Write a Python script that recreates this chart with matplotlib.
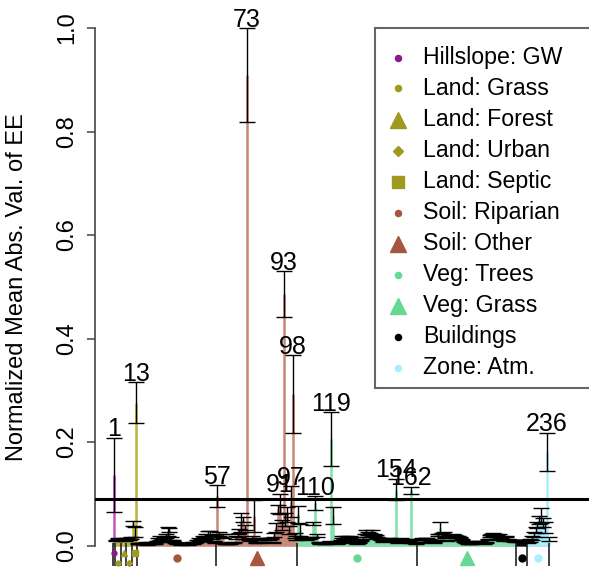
import numpy as np
import matplotlib
matplotlib.use('Agg')
import matplotlib.pyplot as plt
from matplotlib.lines import Line2D
from matplotlib.patches import Rectangle

plt.rcParams['font.family'] = ['Liberation Sans', 'DejaVu Sans']

# ---- data: normalized mean |EE| and error, per parameter group ----
gw_mean = [0.136]
gw_err = [0.072]
grass_mean = [0.010, 0.013, 0.011]
grass_err = [0.001, 0.001, 0.001]
forest_mean = [0.012, 0.014, 0.010]
forest_err = [0.001, 0.001, 0.001]
urban_mean = [0.013, 0.011, 0.015]
urban_err = [0.001, 0.001, 0.002]
septic_mean = [0.043, 0.026, 0.276]
septic_err = [0.005, 0.010, 0.040]
riparian_mean = [0.004, 0.003, 0.004, 0.003, 0.005, 0.002, 0.004, 0.006, 0.003, 0.004,
                 0.007, 0.012, 0.015, 0.010, 0.014, 0.018, 0.027, 0.030, 0.013, 0.009,
                 0.005, 0.004, 0.003, 0.002, 0.003, 0.004, 0.003, 0.002, 0.004, 0.005,
                 0.004, 0.006, 0.008, 0.012, 0.010, 0.015, 0.014, 0.018, 0.023, 0.020,
                 0.016, 0.008, 0.005]
riparian_err = [0.001, 0.001, 0.001, 0.001, 0.001, 0.001, 0.001, 0.001, 0.001, 0.001,
                0.001, 0.003, 0.004, 0.003, 0.003, 0.004, 0.009, 0.003, 0.003, 0.001,
                0.001, 0.001, 0.001, 0.001, 0.001, 0.001, 0.001, 0.001, 0.001, 0.001,
                0.001, 0.001, 0.002, 0.003, 0.002, 0.003, 0.003, 0.004, 0.005, 0.008,
                0.004, 0.001, 0.001]
soil_other_mean = [0.096, 0.022, 0.020, 0.018, 0.004, 0.003, 0.003, 0.004, 0.005, 0.006,
                   0.015, 0.020, 0.028, 0.045, 0.050, 0.035, 0.909, 0.012, 0.010, 0.015,
                   0.057, 0.006, 0.005, 0.012, 0.013, 0.014, 0.012, 0.013, 0.011, 0.014,
                   0.006, 0.020, 0.035, 0.070, 0.080, 0.040, 0.486, 0.050, 0.060, 0.030,
                   0.085, 0.293, 0.020, 0.015]
soil_other_err = [0.021, 0.004, 0.003, 0.004, 0.001, 0.001, 0.001, 0.001, 0.001, 0.001,
                  0.003, 0.003, 0.004, 0.018, 0.005, 0.005, 0.091, 0.002, 0.002, 0.003,
                  0.031, 0.001, 0.001, 0.001, 0.001, 0.001, 0.001, 0.001, 0.001, 0.001,
                  0.001, 0.004, 0.008, 0.008, 0.020, 0.010, 0.044, 0.012, 0.015, 0.008,
                  0.030, 0.075, 0.005, 0.004]
trees_mean = [0.060, 0.030, 0.015, 0.013, 0.012, 0.014, 0.013, 0.015, 0.043, 0.082,
              0.020, 0.006, 0.004, 0.005, 0.003, 0.004, 0.006, 0.008, 0.206, 0.058,
              0.006, 0.004, 0.005, 0.010, 0.016, 0.014, 0.017, 0.015, 0.016, 0.012,
              0.008, 0.005, 0.004, 0.006, 0.010, 0.015, 0.020, 0.026, 0.024, 0.022,
              0.025, 0.021, 0.018, 0.016, 0.014, 0.012, 0.008, 0.012, 0.013, 0.012,
              0.014, 0.012, 0.010, 0.108, 0.006, 0.012, 0.013, 0.011, 0.012, 0.008,
              0.010, 0.107, 0.006, 0.005, 0.004]
trees_err = [0.017, 0.012, 0.002, 0.001, 0.001, 0.001, 0.001, 0.001, 0.003, 0.013,
             0.003, 0.001, 0.001, 0.001, 0.001, 0.001, 0.001, 0.001, 0.052, 0.016,
             0.001, 0.001, 0.001, 0.001, 0.002, 0.001, 0.002, 0.001, 0.002, 0.001,
             0.001, 0.001, 0.001, 0.001, 0.001, 0.002, 0.003, 0.004, 0.003, 0.002,
             0.005, 0.002, 0.002, 0.001, 0.001, 0.001, 0.001, 0.001, 0.001, 0.001,
             0.001, 0.001, 0.001, 0.021, 0.001, 0.001, 0.001, 0.001, 0.001, 0.001,
             0.001, 0.007, 0.001, 0.001, 0.001]
vgrass_mean = [0.005, 0.012, 0.013, 0.012, 0.014, 0.013, 0.012, 0.010, 0.008, 0.006,
               0.010, 0.020, 0.034, 0.022, 0.024, 0.015, 0.010, 0.016, 0.018, 0.020,
               0.019, 0.017, 0.018, 0.015, 0.012, 0.008, 0.006, 0.004, 0.003, 0.004,
               0.005, 0.006, 0.007, 0.008, 0.007, 0.005, 0.004, 0.006, 0.012, 0.018,
               0.020, 0.021, 0.020, 0.019, 0.020, 0.016, 0.012, 0.010, 0.018, 0.012,
               0.010, 0.009, 0.010, 0.008]
vgrass_err = [0.001, 0.001, 0.001, 0.001, 0.001, 0.001, 0.001, 0.001, 0.001, 0.001,
              0.001, 0.002, 0.011, 0.003, 0.002, 0.001, 0.001, 0.002, 0.002, 0.002,
              0.002, 0.001, 0.001, 0.001, 0.001, 0.001, 0.001, 0.001, 0.001, 0.001,
              0.001, 0.001, 0.001, 0.001, 0.001, 0.001, 0.001, 0.001, 0.001, 0.002,
              0.003, 0.003, 0.002, 0.002, 0.003, 0.002, 0.001, 0.001, 0.001, 0.001,
              0.001, 0.001, 0.001, 0.001]
bldg_mean = [0.009, 0.008, 0.010, 0.009, 0.008, 0.007]
bldg_err = [0.001, 0.001, 0.001, 0.001, 0.001, 0.001]
atm_mean = [0.008, 0.010, 0.015, 0.022, 0.030, 0.040, 0.050, 0.058, 0.045, 0.035, 0.181, 0.012]
atm_err = [0.003, 0.003, 0.004, 0.005, 0.006, 0.006, 0.008, 0.014, 0.009, 0.010, 0.037, 0.004]

group_names = ["Hillslope: GW", "Land: Grass", "Land: Forest", "Land: Urban", "Land: Septic",
               "Soil: Riparian", "Soil: Other", "Veg: Trees", "Veg: Grass", "Buildings",
               "Zone: Atm."]
group_means = [gw_mean, grass_mean, forest_mean, urban_mean, septic_mean, riparian_mean,
               soil_other_mean, trees_mean, vgrass_mean, bldg_mean, atm_mean]
group_errs = [gw_err, grass_err, forest_err, urban_err, septic_err, riparian_err,
              soil_other_err, trees_err, vgrass_err, bldg_err, atm_err]

labeled = [1, 13, 57, 73, 91, 93, 97, 98, 110, 119, 154, 162, 236]
threshold = 0.09

# ---- styles ----
line_cols = ['#C455C4', '#B8B43C', '#B8B43C', '#B8B43C', '#B8B43C', '#C98676', '#C98676',
             '#80E0A8', '#80E0A8', '#000000', '#A8EEFF']
mark_cols = ['#8B1A8B', '#9E9A1E', '#9E9A1E', '#9E9A1E', '#9E9A1E', '#A8553F', '#A8553F',
             '#66D894', '#66D894', '#000000', '#A8EEFF']
markers = ['o', 'o', '^', 'D', 's', 'o', '^', 'o', '^', 'o', 'o']
leg_sizes = [4.4, 4.4, 11, 5.5, 8.5, 4.4, 11, 4.4, 11, 4.4, 4.4]
bot_sizes = [3.5, 3.5, 5, 3, 4, 5, 10.5, 5, 10.5, 5, 5]
bot_rows = [-0.0145, -0.033, -0.0145, -0.033, -0.0145, -0.025, -0.025, -0.025, -0.025,
            -0.025, -0.025]

means = np.concatenate(group_means)
errs = np.concatenate(group_errs)
idx = np.arange(1, len(means) + 1)
sizes = [len(m) for m in group_means]
colors = np.concatenate([[c] * n for c, n in zip(line_cols, sizes)])
ends = np.cumsum(sizes)
starts = ends - np.array(sizes) + 1
bounds = np.concatenate([[0.5], ends + 0.5])

W, H = 589, 568
fig = plt.figure(figsize=(W / 100, H / 100), dpi=100)
ax = fig.add_axes([95 / W, 1 / H, 494 / W, 560 / H])
ax.set_xlim(-9.49, 259.0)
ax.set_ylim(-0.0415, 1.0406)

ax.hlines(0, 0.5, bounds[-1], color='#cccccc', lw=1.2, zorder=1)
ax.vlines(idx, 0, means, colors=colors, lw=1.8, zorder=2)
ax.errorbar(idx, means, yerr=errs, fmt='none', ecolor='black', elinewidth=1.0,
            capsize=6, capthick=1.0, zorder=3)
ax.axhline(threshold, color='black', lw=2.2, zorder=4)

for p in labeled:
    ax.annotate(str(p), (p, means[p - 1] + errs[p - 1]), xytext=(0, 1),
                textcoords='offset points', ha='center', va='baseline', fontsize=18)

# group separators and markers under the axis
ax.vlines(bounds, -0.04, 0.004, color='#222222', lw=1.2, clip_on=False)
for g in range(len(group_names)):
    cx = (starts[g] + ends[g]) / 2
    ax.plot(cx, bot_rows[g], marker=markers[g], color=mark_cols[g], ms=bot_sizes[g],
            ls='none', clip_on=False)

for s in ['top', 'right', 'bottom']:
    ax.spines[s].set_visible(False)
ax.spines['left'].set_bounds(0, 1)
ax.spines['left'].set_color('#444444')
ax.spines['left'].set_linewidth(1.2)
ax.set_xticks([])
ax.set_yticks([0, 0.2, 0.4, 0.6, 0.8, 1.0])
ax.set_yticklabels(['0.0', '0.2', '0.4', '0.6', '0.8', '1.0'])
ax.tick_params(axis='y', length=5.8, width=1.1, color='#444444', labelsize=17, pad=6)
plt.setp(ax.get_yticklabels(), rotation=90, va='center')

fig.text(17 / W, 1 - 287 / H, 'Normalized Mean Abs. Val. of EE', rotation=90,
         ha='center', va='center', fontsize=17)

# legend box
fig.add_artist(Rectangle((375 / W, 1 - 388 / H), 300 / W, 360 / H, transform=fig.transFigure,
                         facecolor='white', edgecolor='#666666', lw=1.5))
for k, name in enumerate(group_names):
    py = 57.5 + 31.0 * k
    fig.add_artist(Line2D([397.5 / W], [1 - py / H], transform=fig.transFigure,
                          marker=markers[k], color=mark_cols[k], ms=leg_sizes[k], ls='none'))
    fig.text(423 / W, 1 - py / H, name, ha='left', va='center', fontsize=16.7)

fig.savefig('out.png', dpi=100)
